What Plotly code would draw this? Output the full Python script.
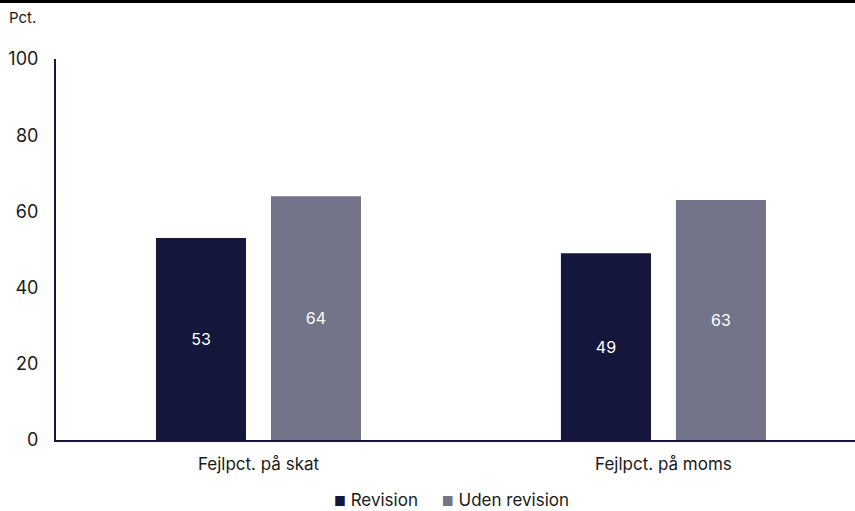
import plotly.graph_objects as go

categories = ['Fejlpct. på skat', 'Fejlpct. på moms']
revision = [53, 49]
uden_revision = [64, 63]
y_ticks = [0, 20, 40, 60, 80, 100]

NAVY = '#14163c'
GREY = '#737389'
FONT = 'Inter, Roboto, sans-serif'

series = [('Revision', revision, NAVY), ('Uden revision', uden_revision, GREY)]

fig = go.Figure()

for name, values, color in series:
    fig.add_trace(go.Bar(
        x=categories, y=values, name=name,
        marker=dict(color=color, line=dict(width=0)),
        text=values, textposition='inside', insidetextanchor='middle',
        textfont=dict(color='white', size=16, family=FONT),
        showlegend=False,
    ))

# small square-marker legend drawn as a single centred line of text
legend_text = '&nbsp;&nbsp;&nbsp;&nbsp;&nbsp;'.join(
    f'<span style="color:{color};font-size:13px">■</span> {name}' for name, _, color in series
)

fig.update_layout(
    width=855, height=511,
    barmode='group', bargap=0.432, bargroupgap=0.217,
    plot_bgcolor='white', paper_bgcolor='white',
    font=dict(family=FONT, size=16, color='#1a1a1a'),
    margin=dict(l=56, r=0, t=59, b=71, autoexpand=False),
    xaxis=dict(
        range=[-0.5, 1.473], showgrid=False, zeroline=False,
        showline=True, linecolor=NAVY, linewidth=2, ticks='',
        tickfont=dict(size=17), ticklabelstandoff=8,
    ),
    yaxis=dict(
        range=[0, 100], tickvals=y_ticks, showgrid=False, zeroline=False,
        showline=True, linecolor=NAVY, linewidth=2, ticks='',
        tickfont=dict(size=18), ticklabelstandoff=12,
    ),
    uniformtext=dict(mode='show', minsize=16),
    shapes=[dict(type='line', xref='paper', yref='paper',
                 x0=-0.1, x1=1.0, y0=1.151, y1=1.151,
                 line=dict(color='black', width=3))],
    annotations=[
        dict(text='Pct.', xref='paper', yref='paper',
             x=-0.061, y=1.108, xanchor='left', yanchor='middle',
             showarrow=False, font=dict(size=15)),
        dict(text=legend_text, xref='paper', yref='paper',
             x=0.495, y=-0.157, xanchor='center', yanchor='middle',
             showarrow=False, font=dict(size=17)),
    ],
)

# drop the page's default body margin so the figure sits at the window's corner
fig.write_html('out.html', config={'displayModeBar': False},
               post_script="document.body.style.margin='0';")
